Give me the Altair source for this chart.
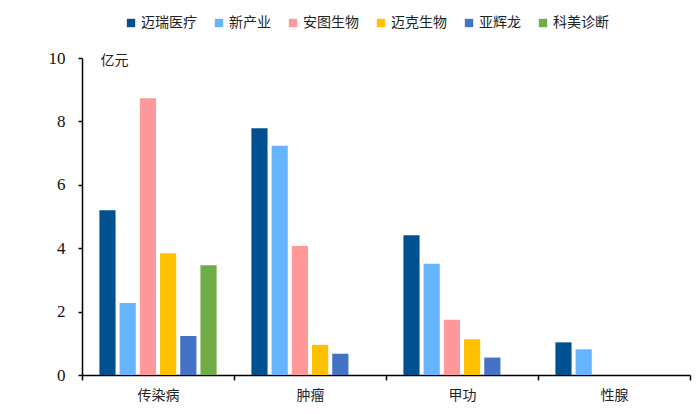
import altair as alt
import pandas as pd

categories = ["传染病", "肿瘤", "甲功", "性腺"]
companies = ["迈瑞医疗", "新产业", "安图生物", "迈克生物", "亚辉龙", "科美诊断"]
colors = ["#02508F", "#66B3FF", "#FF9999", "#FFC000", "#4472C4", "#70AD47"]

mindray = [5.20, 7.78, 4.41, 1.03]
snibe = [2.27, 7.23, 3.51, 0.81]
autobio = [8.73, 4.07, 1.74, None]
maccura = [3.84, 0.95, 1.13, None]
yhlo = [1.23, 0.67, 0.55, None]
chemclin = [3.46, None, None, None]

series = [mindray, snibe, autobio, maccura, yhlo, chemclin]
rows = []
for name, vals in zip(companies, series):
    for cat, v in zip(categories, vals):
        if v is not None:
            rows.append({"类别": cat, "公司": name, "值": v})
df = pd.DataFrame(rows)

cjk = "Noto Sans CJK SC"
serif = "'Liberation Serif', 'DejaVu Serif', serif"

chart = alt.Chart(df).mark_bar().encode(
    x=alt.X("类别:N", sort=categories, title=None,
            scale=alt.Scale(paddingInner=0, paddingOuter=0),
            axis=alt.Axis(labelAngle=0, tickBand="extent", domainColor="black",
                          tickColor="black", domainWidth=1.5, tickWidth=1.5,
                          tickSize=5, labelFont=cjk, labelFontSize=14,
                          labelColor="#222", labelPadding=8)),
    xOffset=alt.XOffset("公司:N", sort=companies,
                        scale=alt.Scale(domain=companies, paddingInner=0.2, paddingOuter=0.86)),
    y=alt.Y("值:Q", scale=alt.Scale(domain=[0, 10]),
            axis=alt.Axis(values=[0, 2, 4, 6, 8, 10], grid=False, domainColor="black",
                          tickColor="black", domainWidth=1.5, tickWidth=1.5, tickSize=4,
                          labelFont=serif, labelFontSize=17, labelColor="#111",
                          labelPadding=13, title="亿元", titleAngle=0, titleFont=cjk,
                          titleFontSize=14, titleFontWeight="normal", titleColor="#222",
                          titleAlign="left", titleBaseline="middle", titleX=18, titleY=2)),
    color=alt.Color("公司:N", sort=companies,
                    scale=alt.Scale(domain=companies, range=colors),
                    legend=alt.Legend(orient="none", direction="horizontal", title=None,
                                      legendX=42, legendY=-42, symbolType="square",
                                      symbolSize=70, symbolStrokeWidth=0,
                                      labelFont=cjk, labelFontSize=14, labelColor="#222",
                                      columnPadding=15, labelOffset=3)),
).properties(
    width=608, height=317,
    autosize=alt.AutoSizeParams(type="none"),
    padding={"left": 74, "top": 50, "right": 2, "bottom": 40},
).configure_view(stroke=None)

chart.save("out.html", embed_options={"renderer": "svg", "actions": False})
